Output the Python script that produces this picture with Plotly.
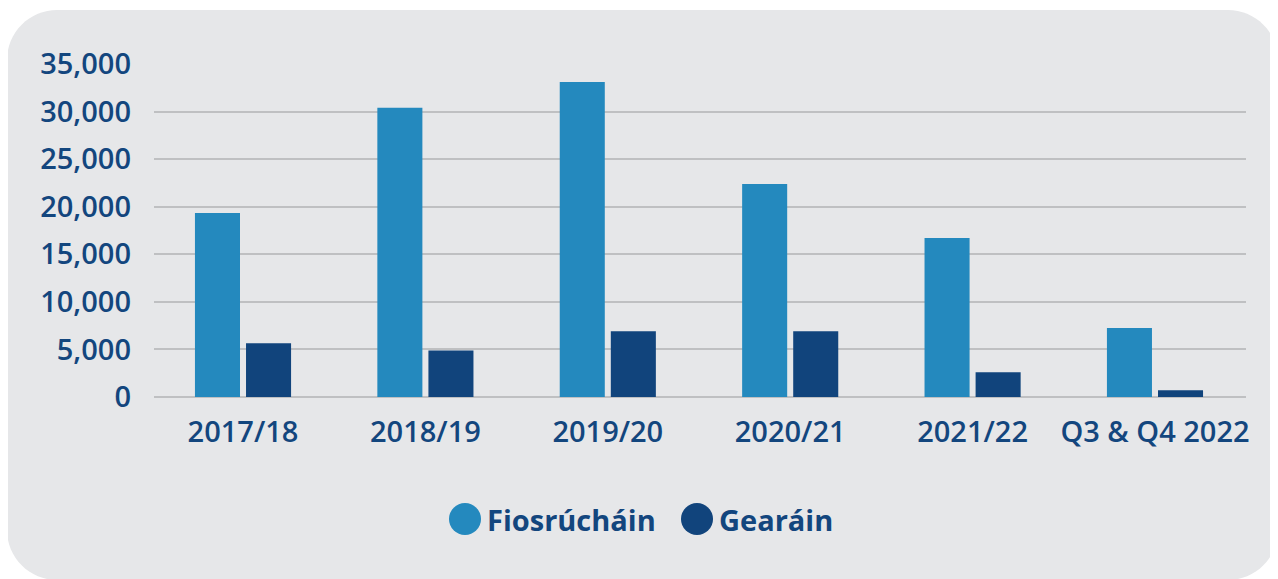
import plotly.graph_objects as go
import math

categories = ["2017/18", "2018/19", "2019/20", "2020/21", "2021/22", "Q3 & Q4 2022"]
fiosruchain = [19350, 30400, 33100, 22400, 16700, 7250]
gearain = [5650, 4900, 6900, 6900, 2600, 700]
y_ticks = [0, 5000, 10000, 15000, 20000, 25000, 30000, 35000]
series_names = ["Fiosrúcháin", "Gearáin"]

LIGHT = "#2489BE"
DARK = "#11447C"
TEXT = "#13467E"
PANEL = "#E6E7E9"
GRID = "#BFC0C2"
FONT = "Open Sans"

OFF = 8  # default page body margin
W, H = 1278 - OFF, 579 - OFF
L, R, T, B = 154 - OFF, 32, 64 - OFF, 182
PW = W - L - R
PH = H - T - B


def fx(px):
    # px given in screen coordinates
    return (px - OFF - L) / PW


def fy(py):
    return (H - B - (py - OFF)) / PH


def rounded_rect(x0, y0, x1, y1, r, n=16):
    pts = []
    corners = [
        (x1 - r, y0 + r, -90, 0),
        (x1 - r, y1 - r, 0, 90),
        (x0 + r, y1 - r, 90, 180),
        (x0 + r, y0 + r, 180, 270),
    ]
    for cx, cy, a0, a1 in corners:
        for i in range(n + 1):
            a = math.radians(a0 + (a1 - a0) * i / n)
            pts.append((cx + r * math.cos(a), cy + r * math.sin(a)))
    return "M " + " L ".join(f"{fx(px):.5f},{fy(py):.5f}" for px, py in pts) + " Z"


fig = go.Figure()
fig.add_trace(go.Bar(x=categories, y=fiosruchain, name=series_names[0],
                     marker=dict(color=LIGHT, line=dict(width=0)), showlegend=False))
fig.add_trace(go.Bar(x=categories, y=gearain, name=series_names[1],
                     marker=dict(color=DARK, line=dict(width=0)), showlegend=False))

shapes = [
    dict(type="path", xref="paper", yref="paper", path=rounded_rect(7, 10, 1278, 580, 50),
         fillcolor=PANEL, line=dict(width=0), layer="below"),
]
annotations = []
legend_items = [(465, series_names[0], LIGHT), (697, series_names[1], DARK)]
for cx, name, col in legend_items:
    shapes.append(dict(type="circle", xref="paper", yref="paper",
                       xsizemode="pixel", ysizemode="pixel",
                       xanchor=fx(cx), yanchor=fy(519),
                       x0=-16, x1=16, y0=-16, y1=16,
                       fillcolor=col, line=dict(width=0)))
    annotations.append(dict(text=name, xref="paper", yref="paper",
                            x=fx(cx + 20), y=fy(519), xanchor="left", yanchor="middle",
                            showarrow=False,
                            font=dict(family=FONT, size=29, color=TEXT, weight=700)))

fig.update_layout(
    width=W, height=H,
    margin=dict(l=L, r=R, t=T, b=B, pad=0),
    paper_bgcolor="white",
    plot_bgcolor="rgba(0,0,0,0)",
    barmode="group",
    bargap=0.44,
    bargroupgap=0.118,
    showlegend=False,
    shapes=shapes,
    annotations=annotations,
    font=dict(family=FONT, color=TEXT),
)
fig.update_xaxes(
    range=[-0.488, 5.499],
    showgrid=False, zeroline=False, showline=False,
    ticks="", ticklabelstandoff=15,
    tickfont=dict(family=FONT, size=29, color=TEXT, weight=600),
)
fig.update_yaxes(
    range=[0, 35000],
    tickvals=y_ticks, tickformat=",",
    showgrid=True, gridcolor=GRID, gridwidth=2,
    zeroline=True, zerolinecolor=GRID, zerolinewidth=2,
    showline=False, ticks="", ticklabelstandoff=22,
    tickfont=dict(family=FONT, size=29, color=TEXT, weight=600),
)

fig.write_html("out.html")
